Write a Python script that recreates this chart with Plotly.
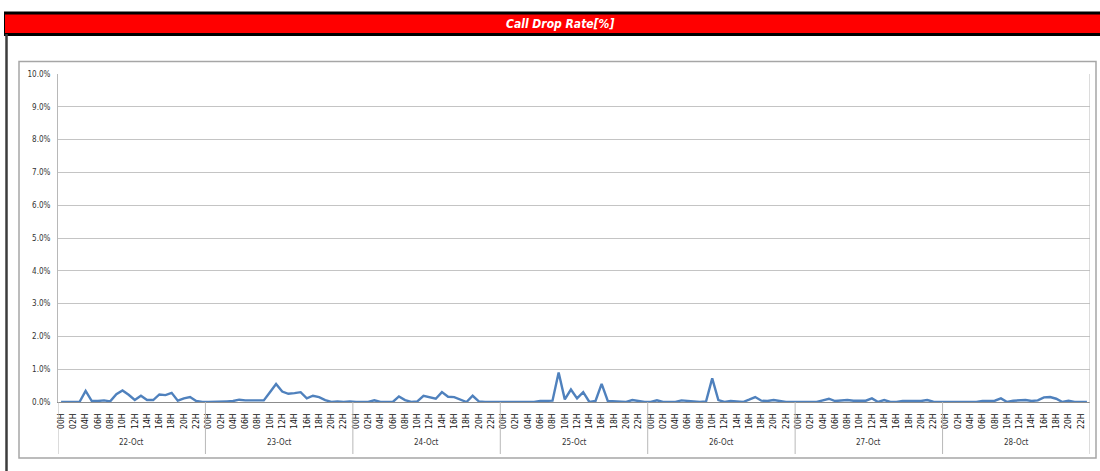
import plotly.graph_objects as go

# Hourly call drop rate (%) for one week, one list per day (00H .. 23H)
days = ["22-Oct", "23-Oct", "24-Oct", "25-Oct", "26-Oct", "27-Oct", "28-Oct"]
hour_labels = ["00H", "02H", "04H", "06H", "08H", "10H",
               "12H", "14H", "16H", "18H", "20H", "22H"]

oct22 = [0, 0, 0, 0, 0.34, 0.03, 0.03, 0.05, 0.02, 0.24, 0.35, 0.22,
         0.06, 0.19, 0.06, 0.06, 0.23, 0.21, 0.28, 0.04, 0.11, 0.15, 0.03, 0]
oct23 = [0, 0, 0, 0.02, 0.03, 0.07, 0.05, 0.05, 0.05, 0.05, 0.30, 0.55,
         0.32, 0.25, 0.27, 0.30, 0.11, 0.19, 0.15, 0.06, 0, 0.02, 0, 0.02]
oct24 = [0, 0, 0, 0.05, 0, 0, 0, 0.17, 0.06, 0, 0.02, 0.19,
         0.15, 0.10, 0.30, 0.16, 0.15, 0.08, 0, 0.19, 0.02, 0, 0, 0]
oct25 = [0, 0, 0, 0, 0, 0, 0.03, 0.04, 0.04, 0.90, 0.08, 0.38,
         0.11, 0.30, 0, 0.03, 0.55, 0.03, 0.02, 0.03, 0, 0.06, 0.03, 0]
oct26 = [0, 0.05, 0, 0, 0, 0.05, 0.03, 0.03, 0, 0.02, 0.72, 0.06,
         0, 0.03, 0.02, 0, 0.07, 0.15, 0.04, 0.03, 0.06, 0.03, 0, 0]
oct27 = [0, 0, 0, 0, 0.05, 0.10, 0.03, 0.04, 0.06, 0.04, 0.04, 0.04,
         0.11, 0, 0.06, 0, 0, 0.03, 0.03, 0.03, 0.03, 0.06, 0.01, 0]
oct28 = [0, 0, 0, 0, 0, 0, 0.03, 0.03, 0.04, 0.11, 0, 0.04,
         0.04, 0.06, 0.03, 0.05, 0.14, 0.15, 0.10, 0, 0.04, 0, 0, 0]

daily = [oct22, oct23, oct24, oct25, oct26, oct27, oct28]
values = [v for day in daily for v in day]
x_idx = list(range(len(values)))
hours_per_day = 24
n = len(values)

W, H = 1100, 471
L, R, T, B = 58, 1090, 74, 402   # plot area in pixels


def px(x):
    return (x - L) / (R - L)


def py(y):
    return (B - y) / (B - T)


fig = go.Figure()
fig.add_trace(go.Scatter(
    x=x_idx, y=values, mode="lines",
    line=dict(color="#4F81BD", width=2.4),
    hoverinfo="skip", showlegend=False,
))

tick_vals = [d * hours_per_day + 2 * k for d in range(len(days)) for k in range(len(hour_labels))]
tick_text = [hour_labels[k] for d in range(len(days)) for k in range(len(hour_labels))]

shapes = []
# title bar
shapes.append(dict(type="rect", xref="paper", yref="paper",
                   x0=px(4), x1=px(1104), y0=py(11.5), y1=py(36),
                   fillcolor="#000000", line=dict(width=0), layer="below"))
shapes.append(dict(type="rect", xref="paper", yref="paper",
                   x0=px(5), x1=px(1104), y0=py(14.5), y1=py(33),
                   fillcolor="#FF0000", line=dict(width=0), layer="below"))
# outer frame left edge
shapes.append(dict(type="line", xref="paper", yref="paper",
                   x0=px(6.5), x1=px(6.5), y0=py(34), y1=py(475),
                   line=dict(color="#3c3c3c", width=2.5)))
# chart frame
shapes.append(dict(type="rect", xref="paper", yref="paper",
                   x0=px(19), x1=px(1096), y0=py(61.5), y1=py(458),
                   line=dict(color="#a6a6a6", width=1.5), layer="below"))
# plot area right border
shapes.append(dict(type="line", xref="x", yref="paper",
                   x0=n - 0.5, x1=n - 0.5, y0=py(T), y1=py(B),
                   line=dict(color="#b8b8b8", width=1)))
# day separators below the axis (including the left axis extension)
for d in range(len(days) + 1):
    xs = d * hours_per_day - 0.5
    shapes.append(dict(type="line", xref="x", yref="paper",
                       x0=xs, x1=xs, y0=py(B), y1=py(454),
                       line=dict(color="#b8b8b8", width=1)))

annotations = [dict(text="<b><i>Call Drop Rate[%]</i></b>", xref="paper", yref="paper",
                    x=px(560), y=py(24), xanchor="center", yanchor="middle",
                    showarrow=False,
                    font=dict(family="Liberation Sans Narrow, DejaVu Sans Condensed",
                              size=12, color="white"))]
for d, name in enumerate(days):
    annotations.append(dict(text=name, xref="x", yref="paper",
                            x=d * hours_per_day + (hours_per_day - 1) / 2, y=py(442),
                            xanchor="center", yanchor="middle", showarrow=False,
                            font=dict(family="DejaVu Sans Condensed, DejaVu Sans",
                                      size=8, color="#333333")))

fig.update_layout(
    width=W, height=H,
    margin=dict(l=L, r=W - R, t=T, b=H - B, pad=0),
    paper_bgcolor="white", plot_bgcolor="white",
    shapes=shapes, annotations=annotations,
    xaxis=dict(range=[-0.5, n - 0.5], tickmode="array", tickvals=tick_vals,
               ticktext=tick_text, tickangle=-90, showgrid=False, zeroline=False,
               showline=True, linecolor="#8c8c8c", linewidth=1,
               ticks="outside", ticklen=7, tickcolor="rgba(0,0,0,0)",
               tickfont=dict(family="DejaVu Sans Condensed, DejaVu Sans",
                             size=8.5, color="#111111")),
    yaxis=dict(range=[0, 10], dtick=1, tickformat=".1f", ticksuffix="%",
               showgrid=True, gridcolor="#c4c4c4", gridwidth=1, zeroline=False,
               showline=True, linecolor="#b8b8b8", linewidth=1,
               ticks="outside", ticklen=5, tickcolor="rgba(0,0,0,0)",
               tickfont=dict(family="DejaVu Sans Condensed, DejaVu Sans",
                             size=8, color="#333333")),
)

fig.write_html("out.html")
